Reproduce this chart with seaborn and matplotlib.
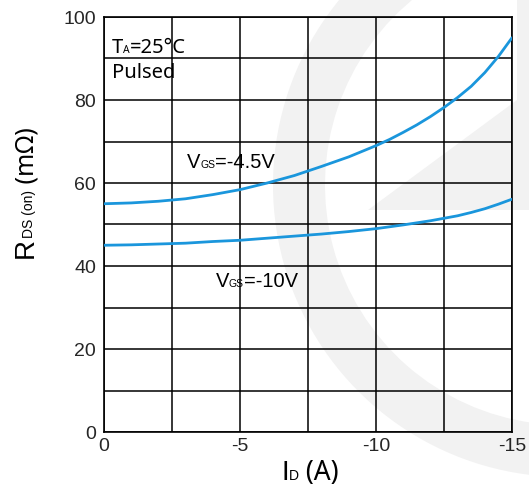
import numpy as np
import pandas as pd
import matplotlib
matplotlib.use("Agg")
import matplotlib.pyplot as plt
import seaborn as sns
from matplotlib.patches import Wedge, Polygon
from matplotlib.transforms import IdentityTransform

# ---------------- data ----------------
id_45 = [0, -1, -2, -3, -4, -5, -6, -7, -8, -9, -10, -10.5, -11, -11.5, -12, -12.5,
         -13, -13.5, -14, -14.5, -15]
rds_45 = [55.0, 55.2, 55.6, 56.2, 57.2, 58.4, 60.0, 61.8, 64.0, 66.3, 69.0, 70.5, 72.2, 74.0,
          76.0, 78.2, 80.6, 83.3, 86.6, 90.5, 95.0]
id_10 = [0, -1, -2, -3, -4, -5, -6, -7, -8, -9, -10, -11, -12, -12.5, -13, -13.5, -14,
         -14.5, -15]
rds_10 = [45.0, 45.1, 45.3, 45.5, 45.9, 46.2, 46.7, 47.2, 47.7, 48.3, 49.0, 49.9, 50.9, 51.5,
          52.1, 52.9, 53.8, 54.9, 56.1]
series_names = ["VGS=-4.5V", "VGS=-10V"]

x_major = [0, -5, -10, -15]
x_labels = ["0", "-5", "-10", "-15"]
x_minor = [-2.5, -7.5, -12.5]
y_major = [0, 20, 40, 60, 80, 100]
y_labels = ["0", "20", "40", "60", "80", "100"]
y_minor = [10, 30, 50, 70, 90]

df = pd.DataFrame({
    "ID": id_45 + id_10,
    "RDS": rds_45 + rds_10,
    "series": [series_names[0]] * len(id_45) + [series_names[1]] * len(id_10),
})

# ---------------- figure ----------------
sns.set_style("white")
plt.rcParams["font.family"] = ["Liberation Sans", "DejaVu Sans"]
plt.rcParams["axes.unicode_minus"] = False
plt.rcParams["lines.solid_joinstyle"] = "round"

W, H = 529, 486
fig = plt.figure(figsize=(W / 100, H / 100), dpi=100)
fig.patch.set_facecolor("white")
ax = fig.add_axes([104 / W, (H - 432) / H, (512 - 104) / W, (432 - 17) / H])
ax.patch.set_alpha(0)

# faint background watermark (figure pixel coords, origin bottom-left)
wm = "#f2f2f2"
fig.patches.append(Wedge((565, H - 185), 292, 60, 330, width=52, transform=IdentityTransform(),
                         facecolor=wm, edgecolor="none", zorder=-5))
fig.patches.append(Polygon([(368, H - 210), (517, H - 100), (517, H - 0), (529, H - 0), (529, H - 210)],
                           closed=True, transform=IdentityTransform(), facecolor=wm,
                           edgecolor="none", zorder=-5))

blue = "#1a96dc"
sns.lineplot(data=df, x="ID", y="RDS", hue="series", palette=[blue, blue], sort=False,
             estimator=None, legend=False, linewidth=2.0, ax=ax, zorder=3)

ax.set_xlim(0, -15)
ax.set_ylim(0, 100)
ax.set_xticks(x_major)
ax.set_xticklabels(x_labels)
ax.set_xticks(x_minor, minor=True)
ax.set_yticks(y_major)
ax.set_yticklabels(y_labels)
ax.set_yticks(y_minor, minor=True)
ax.grid(which="both", color="black", linewidth=1.1)
ax.set_axisbelow(True)
ax.tick_params(which="both", length=0)
ax.tick_params(axis="x", pad=4.5, labelsize=14)
ax.tick_params(axis="y", pad=5.8, labelsize=14)
for s in ax.spines.values():
    s.set_color("black")
    s.set_linewidth(1.2)
    s.set_visible(True)
ax.set_xlabel("")
ax.set_ylabel("")

renderer = fig.canvas.get_renderer()


def compose(x, y, pieces, rotation=0):
    """Place text pieces one after another, baseline-aligned, in pixel coordinates."""
    for s, size, fam in pieces:
        t = fig.text(x, y, s, fontsize=size, family=[fam, "DejaVu Sans"], rotation=rotation,
                     ha="left", va="baseline", rotation_mode="anchor",
                     transform=IdentityTransform(), color="black")
        ext = t.get_window_extent(renderer)
        if rotation == 0:
            x += ext.width
        else:
            y += ext.height


# curve labels (anchored in data coordinates)
lx, ly = ax.transData.transform((-3.05, 63.6))
compose(lx, ly, [("V", 14.5, "Liberation Sans"), ("GS", 7.5, "Liberation Sans"),
                 ("=-4.5V", 14.5, "Liberation Sans")])
lx, ly = ax.transData.transform((-4.1, 34.9))
compose(lx, ly, [("V", 14.5, "Liberation Sans"), ("GS", 7.5, "Liberation Sans"),
                 ("=-10V", 14.5, "Liberation Sans")])

# condition note
lx, ly = ax.transData.transform((-0.3, 91.4))
compose(lx, ly, [("T", 14.5, "Noto Sans"), ("A", 7.5, "Noto Sans"), ("=25°C", 14.5, "Noto Sans")])
lx, ly = ax.transData.transform((-0.3, 85.3))
compose(lx, ly, [("Pulsed", 14.5, "Noto Sans")])

# axis labels
compose(281, 6, [("I", 20, "Liberation Sans"), ("D", 10, "Liberation Sans"), (" (A)", 19, "Noto Sans")])
compose(33, H - 258, [("R", 20, "Liberation Sans"), ("DS (on)", 10, "Liberation Sans"),
                      (" (mΩ)", 18, "Noto Sans")], rotation=90)

fig.savefig("out.png", dpi=100)
